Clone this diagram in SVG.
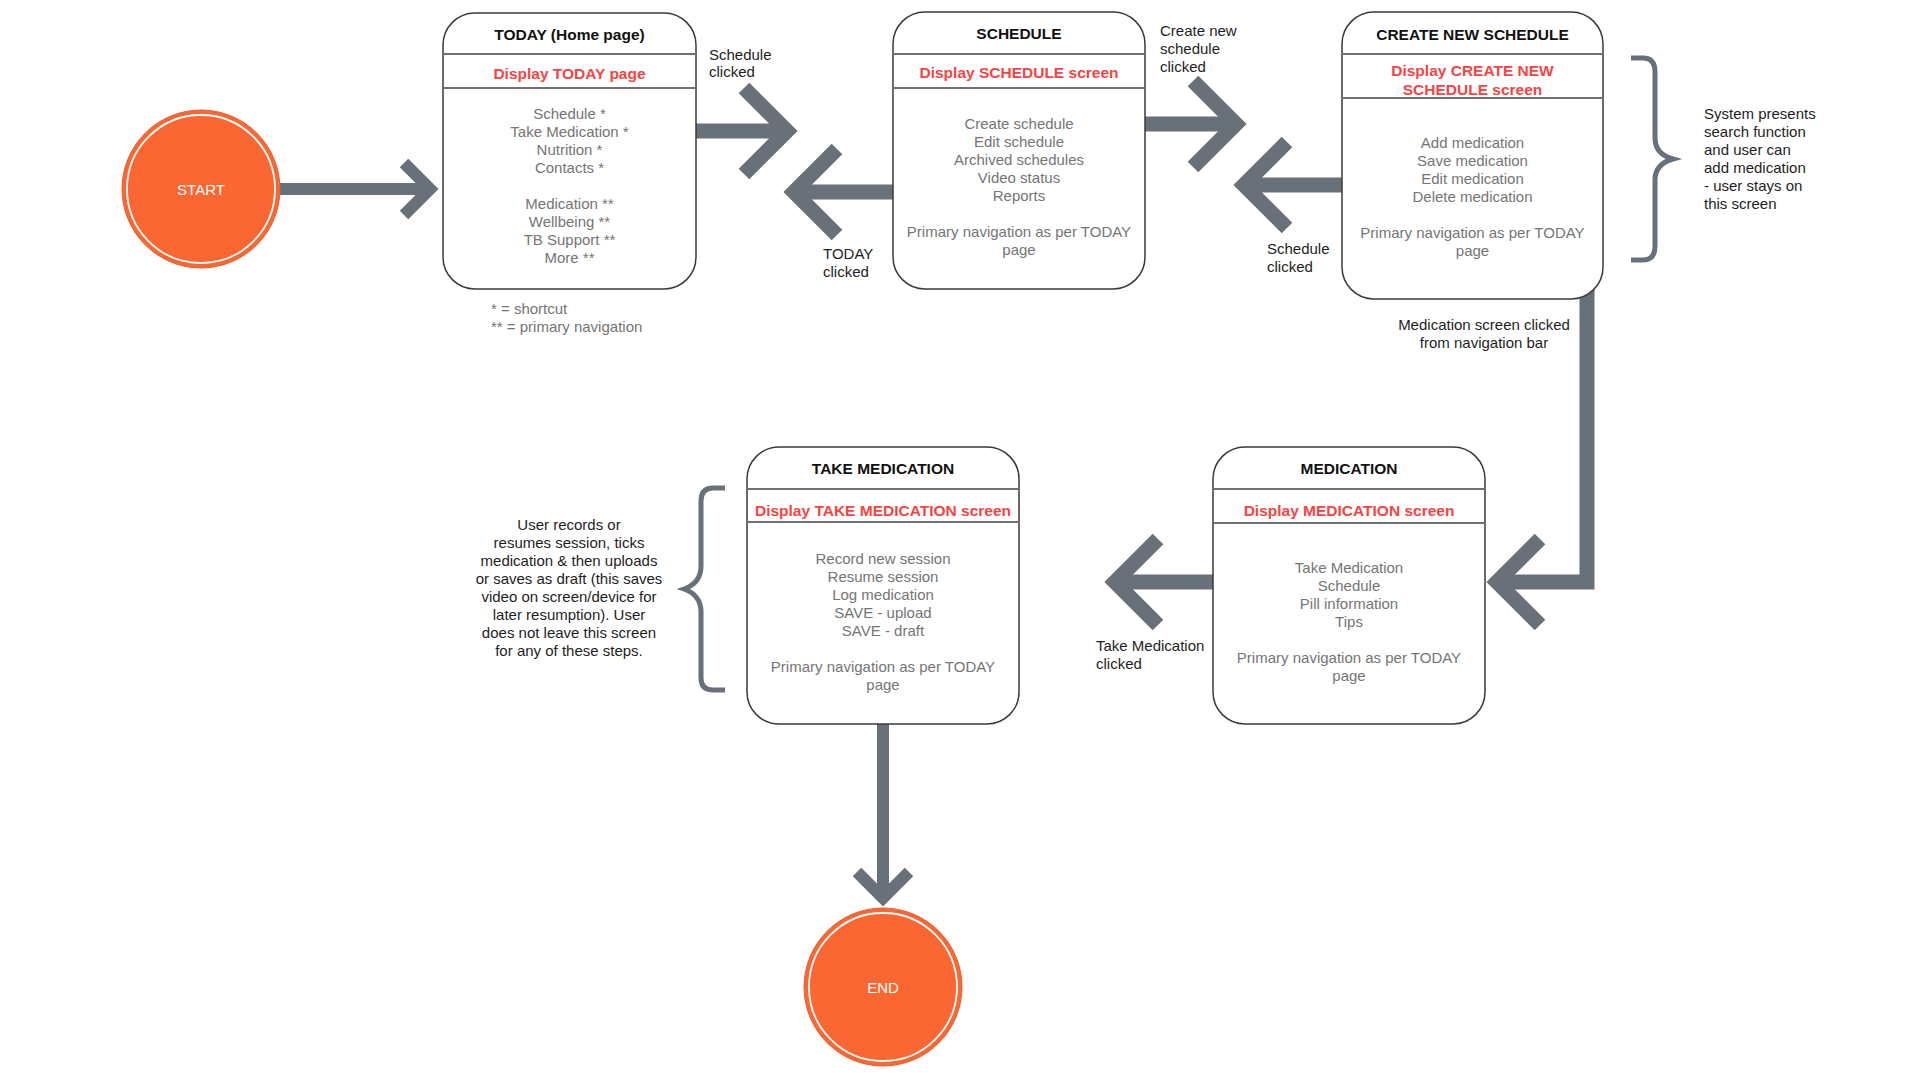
<svg xmlns="http://www.w3.org/2000/svg" width="1920" height="1080" viewBox="0 0 1920 1080">
<style>
.bg{fill:#ffffff}
.box{fill:#ffffff;stroke:#3a3a3a;stroke-width:1.5}
.div{stroke:#707070;stroke-width:2}
.hd{font-family:"Liberation Sans",Arial,sans-serif;font-weight:bold;font-size:15.5px;fill:#111;text-anchor:middle}
.rd{font-family:"Liberation Sans",Arial,sans-serif;font-weight:bold;font-size:15.5px;fill:#f84343;text-anchor:middle}
.it{font-family:"Liberation Sans",Arial,sans-serif;font-size:15px;fill:#757575;text-anchor:middle}
.ft{font-family:"Liberation Sans",Arial,sans-serif;font-size:15px;fill:#757575;text-anchor:start}
.lb{font-family:"Liberation Sans",Arial,sans-serif;font-size:15px;fill:#1e1e1e}
.lbc{font-family:"Liberation Sans",Arial,sans-serif;font-size:15px;fill:#1e1e1e;text-anchor:middle}
.circ{fill:#fa6732;stroke:#e0623a;stroke-width:1}
.ring{fill:none;stroke:#ffffff;stroke-width:1.8}
.ct{font-family:"Liberation Sans",Arial,sans-serif;font-size:15px;fill:#ffffff;text-anchor:middle}
.big{fill:none;stroke:#68707a;stroke-width:15;stroke-linejoin:miter}
.sm{fill:none;stroke:#68707a;stroke-width:12;stroke-linejoin:miter}
.brace{fill:none;stroke:#68707a;stroke-width:5}
</style>
<defs>
<marker id="chevBig" viewBox="-70 -70 90 140" markerWidth="90" markerHeight="140" refX="0" refY="0" orient="auto" markerUnits="userSpaceOnUse" overflow="visible">
<path d="M-43,-43 L0,0 L-43,43" fill="none" stroke="#68707a" stroke-width="15" stroke-linejoin="miter"/>
</marker>
<marker id="chevSm" viewBox="-50 -50 70 100" markerWidth="70" markerHeight="100" refX="0" refY="0" orient="auto" markerUnits="userSpaceOnUse" overflow="visible">
<path d="M-26,-26 L0,0 L-26,26" fill="none" stroke="#68707a" stroke-width="12" stroke-linejoin="miter"/>
</marker>
</defs>
<rect class="bg" x="0" y="0" width="1920" height="1080"/>

<g id="connectors">
<path class="sm" d="M280,189 H430" marker-end="url(#chevSm)"/>
<path class="big" d="M690,131 H787" marker-end="url(#chevBig)"/>
<path class="big" d="M900,192 H794" marker-end="url(#chevBig)"/>
<path class="big" d="M1140,124 H1236" marker-end="url(#chevBig)"/>
<path class="big" d="M1348,185 H1244" marker-end="url(#chevBig)"/>
<path class="big" d="M1587,285 V582 H1497" marker-end="url(#chevBig)"/>
<path class="big" d="M1220,582 H1115" marker-end="url(#chevBig)"/>
<path class="sm" d="M883,720 V898" marker-end="url(#chevSm)"/>
</g>

<g id="labels">
<text class="lb" x="709" y="59.5">Schedule</text>
<text class="lb" x="709" y="77">clicked</text>
<text class="lb" x="823" y="258.5">TODAY</text>
<text class="lb" x="823" y="277">clicked</text>
<text class="lb" x="1160" y="35.5">Create new</text>
<text class="lb" x="1160" y="53.5">schedule</text>
<text class="lb" x="1160" y="71.5">clicked</text>
<text class="lb" x="1267" y="254">Schedule</text>
<text class="lb" x="1267" y="272">clicked</text>
<text class="lbc" x="1484" y="329.5">Medication screen clicked</text>
<text class="lbc" x="1484" y="348">from navigation bar</text>
<text class="lb" x="1096" y="650.5">Take Medication</text>
<text class="lb" x="1096" y="668.5">clicked</text>
</g>

<g id="start">
<circle class="circ" cx="201" cy="189" r="79"/>
<circle class="ring" cx="201" cy="189" r="74"/>
<text class="ct" x="201" y="194.5">START</text>
</g>

<g id="today">
<rect class="box" x="443" y="13" width="253" height="276" rx="32"/>
<line class="div" x1="443" y1="54" x2="696" y2="54"/>
<line class="div" x1="443" y1="88" x2="696" y2="88"/>
<text class="hd" x="569.5" y="39.5">TODAY (Home page)</text>
<text class="rd" x="569.5" y="79">Display TODAY page</text>
<text class="it" x="569.5" y="119">Schedule *</text>
<text class="it" x="569.5" y="137">Take Medication *</text>
<text class="it" x="569.5" y="155">Nutrition *</text>
<text class="it" x="569.5" y="173">Contacts *</text>
<text class="it" x="569.5" y="208.5">Medication **</text>
<text class="it" x="569.5" y="226.5">Wellbeing **</text>
<text class="it" x="569.5" y="244.5">TB Support **</text>
<text class="it" x="569.5" y="262.5">More **</text>
<text class="ft" x="491" y="314">* = shortcut</text>
<text class="ft" x="491" y="332">** = primary navigation</text>
</g>

<g id="schedule">
<rect class="box" x="893" y="12" width="252" height="277" rx="32"/>
<line class="div" x1="893" y1="54" x2="1145" y2="54"/>
<line class="div" x1="893" y1="88" x2="1145" y2="88"/>
<text class="hd" x="1019" y="38.5">SCHEDULE</text>
<text class="rd" x="1019" y="78">Display SCHEDULE screen</text>
<text class="it" x="1019" y="128.5">Create schedule</text>
<text class="it" x="1019" y="146.5">Edit schedule</text>
<text class="it" x="1019" y="164.5">Archived schedules</text>
<text class="it" x="1019" y="182.5">Video status</text>
<text class="it" x="1019" y="200.5">Reports</text>
<text class="it" x="1019" y="236.5">Primary navigation as per TODAY</text>
<text class="it" x="1019" y="254.5">page</text>
</g>

<g id="create-new-schedule">
<rect class="box" x="1342" y="12" width="261" height="287" rx="32"/>
<line class="div" x1="1342" y1="54" x2="1603" y2="54"/>
<line class="div" x1="1342" y1="98" x2="1603" y2="98"/>
<text class="hd" x="1472.5" y="40">CREATE NEW SCHEDULE</text>
<text class="rd" x="1472.5" y="75.5">Display CREATE NEW</text>
<text class="rd" x="1472.5" y="94.5">SCHEDULE screen</text>
<text class="it" x="1472.5" y="147.5">Add medication</text>
<text class="it" x="1472.5" y="165.5">Save medication</text>
<text class="it" x="1472.5" y="183.5">Edit medication</text>
<text class="it" x="1472.5" y="201.5">Delete medication</text>
<text class="it" x="1472.5" y="237.5">Primary navigation as per TODAY</text>
<text class="it" x="1472.5" y="255.5">page</text>
</g>

<g id="create-note">
<path class="brace" d="M1631,58 H1643 Q1655,58 1655,72 V138 Q1655,154 1673,159 Q1655,164 1655,180 V246 Q1655,260 1643,260 H1631"/>
<text class="lb" x="1704" y="118.5">System presents</text>
<text class="lb" x="1704" y="136.5">search function</text>
<text class="lb" x="1704" y="154.5">and user can</text>
<text class="lb" x="1704" y="172.5">add medication</text>
<text class="lb" x="1704" y="190.5">- user stays on</text>
<text class="lb" x="1704" y="208.5">this screen</text>
</g>

<g id="medication">
<rect class="box" x="1213" y="447" width="272" height="277" rx="32"/>
<line class="div" x1="1213" y1="489" x2="1485" y2="489"/>
<line class="div" x1="1213" y1="523" x2="1485" y2="523"/>
<text class="hd" x="1349" y="473.5">MEDICATION</text>
<text class="rd" x="1349" y="515.5">Display MEDICATION screen</text>
<text class="it" x="1349" y="572.5">Take Medication</text>
<text class="it" x="1349" y="590.5">Schedule</text>
<text class="it" x="1349" y="608.5">Pill information</text>
<text class="it" x="1349" y="626.5">Tips</text>
<text class="it" x="1349" y="662.5">Primary navigation as per TODAY</text>
<text class="it" x="1349" y="680.5">page</text>
</g>

<g id="take-medication">
<rect class="box" x="747" y="447" width="272" height="277" rx="32"/>
<line class="div" x1="747" y1="489" x2="1019" y2="489"/>
<line class="div" x1="747" y1="522" x2="1019" y2="522"/>
<text class="hd" x="883" y="473.5">TAKE MEDICATION</text>
<text class="rd" x="883" y="515.5">Display TAKE MEDICATION screen</text>
<text class="it" x="883" y="563.5">Record new session</text>
<text class="it" x="883" y="581.5">Resume session</text>
<text class="it" x="883" y="599.5">Log medication</text>
<text class="it" x="883" y="617.5">SAVE - upload</text>
<text class="it" x="883" y="635.5">SAVE - draft</text>
<text class="it" x="883" y="671.5">Primary navigation as per TODAY</text>
<text class="it" x="883" y="689.5">page</text>
</g>

<g id="take-note">
<path class="brace" d="M725,488 H713 Q701,488 701,501 V566 Q701,583 684,589 Q701,595 701,612 V678 Q701,690 713,690 H725"/>
<text class="lbc" x="569" y="530">User records or</text>
<text class="lbc" x="569" y="548">resumes session, ticks</text>
<text class="lbc" x="569" y="566">medication &amp; then uploads</text>
<text class="lbc" x="569" y="584">or saves as draft (this saves</text>
<text class="lbc" x="569" y="602">video on screen/device for</text>
<text class="lbc" x="569" y="620">later resumption). User</text>
<text class="lbc" x="569" y="638">does not leave this screen</text>
<text class="lbc" x="569" y="656">for any of these steps.</text>
</g>

<g id="end">
<circle class="circ" cx="883" cy="987" r="79"/>
<circle class="ring" cx="883" cy="987" r="74"/>
<text class="ct" x="883" y="992.5">END</text>
</g>
</svg>
